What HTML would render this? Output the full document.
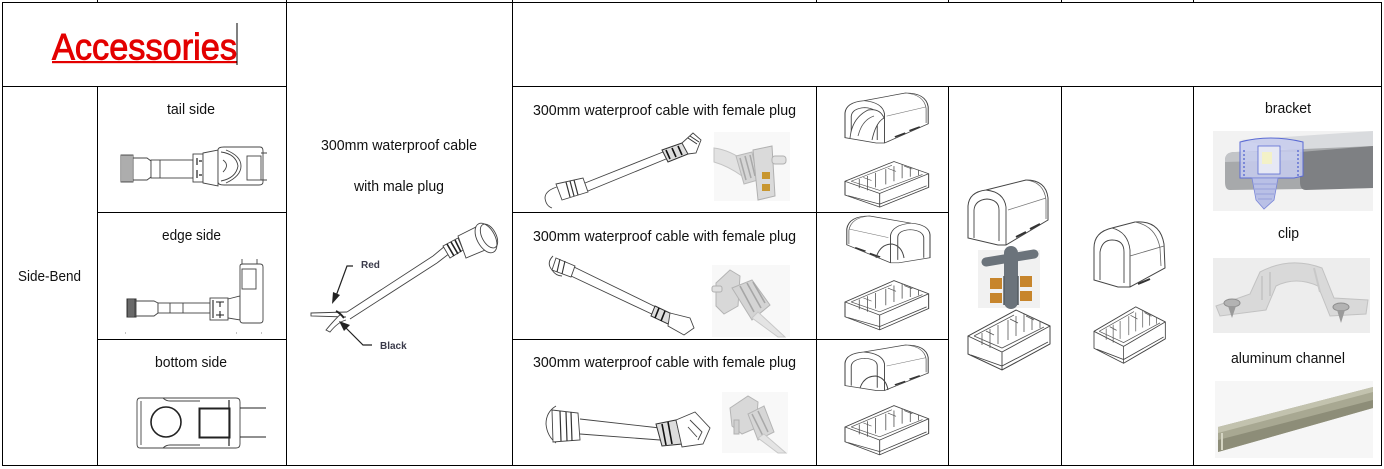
<!DOCTYPE html>
<html>
<head>
<meta charset="utf-8">
<style>
html,body{margin:0;padding:0;background:#fff;}
body{width:1384px;height:469px;overflow:hidden;}
svg{display:block;}
.t{font-family:"Liberation Sans",Arial,sans-serif;font-size:15px;fill:#111;}
.ln{stroke:#000;stroke-width:1.3;fill:none;shape-rendering:crispEdges;}
.d{stroke:#444;stroke-width:0.9;fill:none;}
.df{stroke:#444;stroke-width:0.9;fill:#fff;}
</style>
</head>
<body>
<svg width="1384" height="469" viewBox="0 0 1384 469" xmlns="http://www.w3.org/2000/svg">
<defs>
  <g id="cap">
    <path d="M0,58 L0,26 Q1,12 18,10 L58,0 Q78,0 80,18 L80,40 L38,65 L30,65 Z" fill="#fff" stroke="#444" stroke-width="1"/>
    <path d="M38,65 L38,27 Q36,12 18,10" fill="none" stroke="#444" stroke-width="0.9"/>
    <path d="M6,58 L6,30 Q7,20 19,19 Q31,20 31,30 L31,61" fill="none" stroke="#444" stroke-width="0.9"/>
    <path d="M58,0 Q76,2 78,20 L78,39" fill="none" stroke="#666" stroke-width="0.8"/>
    <path d="M40,30 L78,18" fill="none" stroke="#777" stroke-width="0.7"/>
    <path d="M48,57 L58,52 M62,49 L72,44" fill="none" stroke="#333" stroke-width="2"/>
  </g>
  <g id="base">
    <path d="M0,28 L0,46 L34,62 L82,36 L82,18 L48,2 Z" fill="#fff" stroke="#444" stroke-width="1"/>
    <path d="M0,28 L34,44 L82,18 M34,44 L34,62 M3,47 L34,58 L80,34" fill="none" stroke="#444" stroke-width="0.9"/>
    <path d="M6,28 L34,40 L76,19 M6,28 L46,7 M14,25 L14,37 M22,21 L22,40 M30,17 L30,36 M40,12 L40,32 M48,8 L48,28 M56,6 L56,24 M64,9 L64,22 M72,13 L72,20 M18,23 L26,27 M42,11 L50,15 M58,8 L66,12" fill="none" stroke="#555" stroke-width="0.8"/>
  </g>
</defs>

<!-- ===== TABLE GRID ===== -->
<g class="ln">
  <line x1="2" y1="2.5" x2="1382" y2="2.5"/>
  <line x1="2" y1="86.5" x2="286" y2="86.5"/>
  <line x1="512" y1="86.5" x2="1382" y2="86.5"/>
  <line x1="97" y1="212.5" x2="286" y2="212.5"/>
  <line x1="512" y1="212.5" x2="948" y2="212.5"/>
  <line x1="97" y1="339.5" x2="286" y2="339.5"/>
  <line x1="512" y1="339.5" x2="948" y2="339.5"/>
  <line x1="2" y1="465.5" x2="1382" y2="465.5"/>

  <line x1="2.5" y1="2" x2="2.5" y2="466"/>
  <line x1="97.5" y1="86" x2="97.5" y2="466"/>
  <line x1="97.5" y1="0" x2="97.5" y2="3"/>
  <line x1="286.5" y1="0" x2="286.5" y2="466"/>
  <line x1="512.5" y1="0" x2="512.5" y2="466"/>
  <line x1="816.5" y1="86" x2="816.5" y2="466"/>
  <line x1="816.5" y1="0" x2="816.5" y2="3"/>
  <line x1="948.5" y1="86" x2="948.5" y2="466"/>
  <line x1="948.5" y1="0" x2="948.5" y2="3"/>
  <line x1="1061.5" y1="86" x2="1061.5" y2="466"/>
  <line x1="1061.5" y1="0" x2="1061.5" y2="3"/>
  <line x1="1193.5" y1="86" x2="1193.5" y2="466"/>
  <line x1="1193.5" y1="0" x2="1193.5" y2="3"/>
  <line x1="1381.5" y1="2" x2="1381.5" y2="466"/>
</g>

<!-- ===== TITLE ===== -->
<text x="52" y="59.5" font-family="Liberation Sans, Arial, sans-serif" font-size="37" fill="#e30000" stroke="#e30000" stroke-width="0.9" textLength="185" lengthAdjust="spacingAndGlyphs">Accessories</text>
<rect x="52" y="61" width="185" height="2.2" fill="#e30000"/>
<rect x="236.5" y="23" width="1" height="42" fill="#000"/>

<!-- ===== TEXT LABELS ===== -->
<text class="t" x="18" y="281" textLength="63" lengthAdjust="spacingAndGlyphs">Side-Bend</text>
<text class="t" x="167" y="114" textLength="48" lengthAdjust="spacingAndGlyphs">tail side</text>
<text class="t" x="162" y="240" textLength="59" lengthAdjust="spacingAndGlyphs">edge side</text>
<text class="t" x="155" y="367" textLength="72" lengthAdjust="spacingAndGlyphs">bottom side</text>
<text class="t" x="321" y="150" textLength="156" lengthAdjust="spacingAndGlyphs">300mm waterproof cable</text>
<text class="t" x="354" y="191" textLength="90" lengthAdjust="spacingAndGlyphs">with male plug</text>
<text class="t" x="533" y="115" textLength="263" lengthAdjust="spacingAndGlyphs">300mm waterproof cable with female plug</text>
<text class="t" x="533" y="241" textLength="263" lengthAdjust="spacingAndGlyphs">300mm waterproof cable with female plug</text>
<text class="t" x="533" y="367" textLength="263" lengthAdjust="spacingAndGlyphs">300mm waterproof cable with female plug</text>
<text class="t" x="1265" y="113" textLength="46" lengthAdjust="spacingAndGlyphs">bracket</text>
<text class="t" x="1278" y="238" textLength="21" lengthAdjust="spacingAndGlyphs">clip</text>
<text class="t" x="1231" y="363" textLength="114" lengthAdjust="spacingAndGlyphs">aluminum channel</text>

<!-- ===== TAIL SIDE DRAWING ===== -->
<g>
  <rect x="121" y="155" width="12" height="27" class="df" stroke-width="1.2"/>
  <path d="M123,155 V182 M125,155 V182 M127,155 V182 M129,155 V182 M131,155 V182" stroke="#333" stroke-width="0.8"/>
  <path d="M133,158 H147 L151,161 V177 L147,180 H133 Z" class="df"/>
  <rect x="151" y="160" width="42" height="18" class="df"/>
  <line x1="160" y1="160" x2="160" y2="178" class="d"/>
  <rect x="193" y="154" width="10" height="28" class="df"/>
  <path d="M197,158 V165 M197,170 V178 M199,161 H202 M199,175 H202" stroke="#222" stroke-width="1.2"/>
  <path d="M203,153 L218,150 V186 L203,183 Z" class="df"/>
  <path d="M218,150 Q218,147 224,147 H260 Q263,147 263,151 V182 Q263,185 259,185 H224 Q218,185 218,182 Z" class="df" stroke-width="1.2"/>
  <path d="M221,152 Q236,154 238,166 Q236,178 221,181" class="d"/>
  <path d="M226,150 Q241,156 241,166 Q241,176 226,183" class="d"/>
  <path d="M223,160 Q230,165 223,172" class="d"/>
  <rect x="247" y="156" width="14" height="24" class="d" stroke-width="1.3"/>
  <path d="M261,153 H267 M261,180 H267" class="d"/>
</g>

<!-- ===== EDGE SIDE DRAWING ===== -->
<g>
  <rect x="127" y="299" width="9" height="18" fill="#555" stroke="#333"/>
  <path d="M129,299 V317 M131,299 V317 M133,299 V317" stroke="#999" stroke-width="0.6"/>
  <path d="M136,301 H154 L158,303 V313 L154,316 H136 Z" class="df"/>
  <rect x="158" y="303" width="52" height="10" class="df"/>
  <line x1="170" y1="303" x2="170" y2="313" class="d"/>
  <line x1="183" y1="303" x2="183" y2="313" class="d"/>
  <rect x="210" y="298" width="18" height="22" class="df"/>
  <path d="M213,300 V318 M216,302 H224 M216,315 H224 M220,302 V307 M220,311 V318" stroke="#222" stroke-width="1.1"/>
  <path d="M228,299 L240,296 V320 L228,318 Z" class="df"/>
  <path d="M240,266 Q240,264 243,264 H260 Q263,264 263,267 V320 Q263,323 260,323 H243 Q240,323 240,320 Z" class="df" stroke-width="1.1"/>
  <rect x="242" y="269" width="14" height="20" class="d" stroke-width="1.2"/>
  <path d="M242,259 V264 M257,259 V264" class="d"/>
  <path d="M125,333 h1 M236,333 h1 M261,333 h1" stroke="#888"/>
</g>

<!-- ===== BOTTOM SIDE DRAWING ===== -->
<g>
  <path d="M140,398 H236 Q240,398 240,402 V444 Q240,448 236,448 H140 Q137,448 137,444 V402 Q137,398 140,398 Z" class="df" stroke="#222" stroke-width="1.6"/>
  <path d="M141,401 V445 M163,398 Q166,401 170,401 H200 M163,448 Q166,445 170,445 H200" class="d"/>
  <circle cx="166" cy="422" r="15" fill="none" stroke="#222" stroke-width="1.6"/>
  <rect x="199.5" y="408.5" width="30" height="29" fill="none" stroke="#222" stroke-width="2"/>
  <line x1="229" y1="400" x2="229" y2="446" stroke="#222" stroke-width="1.2"/>
  <path d="M240,408 H266 M240,437 H266" stroke="#222" stroke-width="1.1"/>
</g>

<!-- ===== MALE PLUG CABLE ===== -->
<g>
  <path d="M347,312 L433,256 M350,319 L437,263" class="d" stroke-width="1"/>
  <path d="M433,256 L445,246 M437,263 L450,253" class="d"/>
  <path d="M443,246 L458,238 L463,250 L450,258 Z" class="df"/>
  <path d="M447,244 L454,256 M451,242 L458,254 M455,240 L461,252" stroke="#222" stroke-width="1.6"/>
  <path d="M458,236 L478,226 L490,248 L466,258 Z" class="df"/>
  <ellipse cx="486" cy="238" rx="9" ry="16" transform="rotate(-28 486 238)" class="df" stroke-width="1"/>
  <ellipse cx="489" cy="236" rx="7" ry="13" transform="rotate(-28 489 236)" class="d"/>
  <path d="M347,312 L311,313 L311,316 L346,317" class="df"/>
  <path d="M341,314 Q336,318 326,330 L330,332 Q338,322 346,320" class="df"/>
  <path d="M336,311 Q340,313 344,318" stroke="#222" stroke-width="2" fill="none"/>
  <path d="M353,266 H347 L336,296" stroke="#222" stroke-width="1.2" fill="none"/>
  <path d="M332,304 L333,292 L340,295 Z" fill="#222"/>
  <text x="361" y="268" font-family="Liberation Sans, Arial, sans-serif" font-size="10" font-weight="bold" fill="#3a3a4a">Red</text>
  <path d="M372,345 H363 L345,327" stroke="#222" stroke-width="1.2" fill="none"/>
  <path d="M339,321 L350,325 L344,331 Z" fill="#222"/>
  <text x="380" y="349" font-family="Liberation Sans, Arial, sans-serif" font-size="10" font-weight="bold" fill="#3a3a4a">Black</text>
</g>

<!-- ===== FEMALE PLUG ROW 1 ===== -->
<g>
  <path d="M560,186 Q545,190 545,198 Q546,206 552,208" class="d" stroke-width="1.1"/>
  <path d="M556,184 L583,178 L588,192 L562,200 Z" class="df"/>
  <path d="M566,182 L570,197 M570,181 L574,196 M574,180 L578,195" stroke="#333" stroke-width="1.2"/>
  <path d="M585,183 L663,152 M588,191 L666,159" class="d"/>
  <path d="M662,150 L682,143 L688,154 L668,162 Z" fill="#ddd" stroke="#333" stroke-width="1"/>
  <path d="M666,150 L670,159 M672,148 L676,157 M678,146 L682,155" stroke="#111" stroke-width="1.6"/>
  <path d="M682,143 L693,133 L701,140 L696,153 L688,154 Z" class="df"/>
  <path d="M688,138 L697,144 M690,136 L699,142" stroke="#333" stroke-width="1"/>
  <rect x="714" y="132" width="76" height="69" fill="#f8f8f8"/>
  <path d="M714,148 Q730,150 746,162 L742,176 Q728,166 714,162 Z" fill="#e2e2e2" stroke="#c4c4c4"/>
  <path d="M736,156 L752,152 L758,180 L744,184 Z" fill="#d6d6d6" stroke="#b8b8b8"/>
  <path d="M740,158 L746,180 M745,156 L751,178 M750,155 L755,176" stroke="#a8a8a8" stroke-width="1.5"/>
  <path d="M753,150 L772,146 L775,196 L758,200 Z" fill="#dadada" stroke="#b0b0b0"/>
  <rect x="772" y="156" width="14" height="8" rx="3" fill="#e0e0e0" stroke="#b0b0b0"/>
  <rect x="762" y="172" width="8" height="7" fill="#c8962f"/>
  <rect x="762" y="184" width="8" height="7" fill="#c8962f"/>
</g>

<!-- ===== FEMALE PLUG ROW 2 ===== -->
<g>
  <path d="M553,256 Q546,263 552,270 Q556,276 562,276" class="d" stroke-width="1.1"/>
  <path d="M556,258 L575,266 L571,277 L552,270 Z" class="df"/>
  <path d="M560,259 L557,272 M565,261 L562,274" stroke="#333" stroke-width="1.1"/>
  <path d="M574,267 L660,309 M571,276 L656,316" class="d"/>
  <path d="M655,306 L672,314 L668,324 L651,316 Z" fill="#ddd" stroke="#333"/>
  <path d="M659,308 L655,318 M665,311 L661,321" stroke="#111" stroke-width="1.6"/>
  <path d="M670,313 L690,318 L694,328 L684,335 L668,326 Z" class="df"/>
  <rect x="712" y="265" width="78" height="72" fill="#f8f8f8"/>
  <path d="M716,283 L730,270 L740,276 L738,306 L724,314 L716,306 Z" fill="#d8d8d8" stroke="#b4b4b4"/>
  <rect x="712" y="286" width="10" height="6" rx="2" fill="#e0e0e0" stroke="#b0b0b0"/>
  <path d="M732,288 L752,280 L770,305 L752,320 Z" fill="#d4d4d4" stroke="#b4b4b4"/>
  <path d="M740,286 L754,312 M747,283 L761,308 M753,282 L765,303" stroke="#a6a6a6" stroke-width="1.6"/>
  <path d="M758,312 L785,337 L778,337 L752,318 Z" fill="#e4e4e4" stroke="#c8c8c8"/>
</g>

<!-- ===== FEMALE PLUG ROW 3 ===== -->
<g>
  <path d="M556,406 Q546,412 546,424 Q547,436 556,443" class="d" stroke-width="1.2"/>
  <path d="M552,410 L578,413 L580,440 L553,442 Z" class="df"/>
  <path d="M560,411 L561,441 M566,412 L567,441 M571,412 L572,441" stroke="#333" stroke-width="1.2"/>
  <path d="M580,419 L660,428 M580,434 L660,440" class="d"/>
  <path d="M656,424 L676,420 L682,444 L662,446 Z" fill="#ddd" stroke="#333"/>
  <path d="M662,424 L666,445 M668,422 L672,444" stroke="#111" stroke-width="1.6"/>
  <path d="M676,420 L695,412 L710,428 L703,444 L682,447 Z" class="df" stroke-width="1.1"/>
  <path d="M690,420 L702,432 L698,440 M688,427 L697,437" class="d"/>
  <rect x="722" y="392" width="66" height="61" fill="#f8f8f8"/>
  <path d="M730,408 L748,396 L758,402 L756,428 L742,434 L732,426 Z" fill="#d8d8d8" stroke="#b4b4b4"/>
  <rect x="734" y="420" width="5" height="14" fill="#d0d0d0" stroke="#b0b0b0"/>
  <path d="M748,414 L764,406 L774,432 L758,440 Z" fill="#d6d6d6" stroke="#b4b4b4"/>
  <path d="M752,414 L763,436 M758,411 L768,432" stroke="#a8a8a8" stroke-width="1.5"/>
  <path d="M764,434 L786,453 L778,453 L758,438 Z" fill="#e4e4e4" stroke="#c8c8c8"/>
</g>

<!-- ===== END CAPS COLUMN (816-948) ===== -->
<use href="#cap" transform="translate(845,93) scale(1.04,0.77)"/>
<path d="M850,138 Q852,118 868,110 Q880,108 884,118 Q876,122 872,140" fill="#fff" stroke="#444" stroke-width="0.9"/>
<path d="M858,136 Q862,120 874,116" fill="none" stroke="#555" stroke-width="0.8"/>
<use href="#base" transform="translate(845,160) scale(1.02,0.76)"/>
<use href="#cap" transform="translate(930,216) scale(-1.04,0.72)"/>
<path d="M876,258 Q880,244 892,244 Q902,246 904,258" fill="none" stroke="#444" stroke-width="1"/>
<use href="#base" transform="translate(845,279) scale(1.02,0.82)"/>
<use href="#cap" transform="translate(845,345) scale(1.04,0.70)"/>
<path d="M860,388 Q864,376 876,376 Q886,378 888,390" fill="none" stroke="#444" stroke-width="1"/>
<use href="#base" transform="translate(845,404) scale(1.02,0.82)"/>

<!-- ===== COLUMN 948-1061 ===== -->
<use href="#cap" transform="translate(968,180) scale(1.0,1.0)"/>
<rect x="978" y="250" width="62" height="58" fill="#f1f1f1"/>
<path d="M986,262 L1034,254" stroke="#6b737b" stroke-width="9" stroke-linecap="round"/>
<path d="M1011,253 L1011,302" stroke="#6b737b" stroke-width="14" stroke-linecap="round"/>
<rect x="990" y="278" width="12" height="11" fill="#c7852c"/>
<rect x="990" y="293" width="12" height="10" fill="#c7852c"/>
<rect x="1020" y="276" width="12" height="11" fill="#c7852c"/>
<rect x="1020" y="291" width="12" height="10" fill="#c7852c"/>
<path d="M1004,276 L1004,305 M1018,276 L1018,305" stroke="#555c63" stroke-width="1.5"/>
<use href="#base" transform="translate(968,308) scale(1.0,1.0)"/>

<!-- ===== COLUMN 1061-1193 ===== -->
<g>
  <path d="M1094,280 L1094,248 Q1094,232 1112,228 L1135,222 Q1160,220 1164,244 L1165,268 L1130,287 L1118,287 Z" fill="#fff" stroke="#444" stroke-width="1"/>
  <path d="M1130,287 L1130,250 Q1128,232 1112,228" fill="none" stroke="#444" stroke-width="0.9"/>
  <path d="M1100,280 L1100,252 Q1102,240 1112,240 Q1124,240 1124,252 L1124,283" fill="none" stroke="#444" stroke-width="0.9"/>
  <path d="M1135,222 Q1156,226 1160,248 L1161,266 M1130,256 L1164,246" fill="none" stroke="#666" stroke-width="0.8"/>
  <path d="M1138,284 L1150,279" stroke="#333" stroke-width="2"/>
  <use href="#base" transform="translate(1094,305) scale(0.87,0.94)"/>
</g>

<!-- ===== BRACKET PHOTO ===== -->
<g>
  <rect x="1213" y="131" width="160" height="80" fill="#f2f2f2"/>
  <path d="M1240,140 L1373,131 L1373,146 L1300,152 Z" fill="#d9dbde"/>
  <path d="M1225,160 Q1225,152 1235,152 L1373,146 L1373,188 L1230,190 Q1225,190 1225,182 Z" fill="#a7a9ab"/>
  <path d="M1300,152 L1373,146 L1373,188 L1306,190 Q1300,190 1300,182 Z" fill="#7e8083"/>
  <path d="M1225,160 Q1225,152 1235,152 L1300,152 L1300,160 L1225,162 Z" fill="#c3c5c8"/>
  <path d="M1240,142 Q1270,134 1303,142 L1303,176 L1294,178 L1240,178 Z" fill="#c7cdee" fill-opacity="0.85" stroke="#5b6bd4" stroke-width="1"/>
  <rect x="1258" y="146" width="22" height="28" fill="#e6e8f4" stroke="#5b6bd4" stroke-width="0.8"/>
  <rect x="1262" y="152" width="10" height="12" fill="#f3f1c8"/>
  <path d="M1244,150 V176 M1298,150 V176" stroke="#5566d0" stroke-width="1.3" stroke-dasharray="2 2"/>
  <path d="M1252,178 L1278,178 L1274,200 L1264,209 L1256,200 Z" fill="#b9c0e6" stroke="#7a86d8" stroke-width="0.8"/>
  <path d="M1254,184 H1276 M1255,189 H1275 M1256,194 H1274 M1258,199 H1272" stroke="#8c96d6" stroke-width="0.8"/>
</g>

<!-- ===== CLIP PHOTO ===== -->
<g>
  <rect x="1213" y="258" width="157" height="75" fill="#ededed"/>
  <path d="M1216,306 L1250,294 L1260,272 Q1290,256 1322,268 L1334,298 L1368,300 L1366,314 L1330,316 L1318,286 Q1296,276 1276,286 L1266,310 L1220,316 Z" fill="#d9d9d9" stroke="#c2c2c2"/>
  <path d="M1262,276 L1262,300 M1270,272 L1270,296 M1314,268 L1320,292" stroke="#c8c8c8" stroke-width="2"/>
  <ellipse cx="1232" cy="303" rx="8" ry="4" fill="#b3b3b3" stroke="#8d8d8d"/>
  <path d="M1228,306 L1232,318 L1236,306 Z" fill="#9a9a9a"/>
  <ellipse cx="1341" cy="307" rx="8" ry="4" fill="#b3b3b3" stroke="#8d8d8d"/>
  <path d="M1337,310 L1341,323 L1345,310 Z" fill="#9a9a9a"/>
</g>

<!-- ===== ALUMINUM CHANNEL ===== -->
<g>
  <rect x="1215" y="381" width="158" height="77" fill="#f6f6f6"/>
  <path d="M1218,427 L1373,387 L1373,408 L1218,452 Z" fill="#a8a892"/>
  <path d="M1218,427 L1373,387 L1373,392 L1218,433 Z" fill="#c2c2ae"/>
  <path d="M1218,440 L1373,400 L1373,408 L1218,452 Z" fill="#8d8d78"/>
  <path d="M1222,433 L1222,450" stroke="#d4d4c2" stroke-width="2"/>
</g>
</svg>
</body>
</html>
